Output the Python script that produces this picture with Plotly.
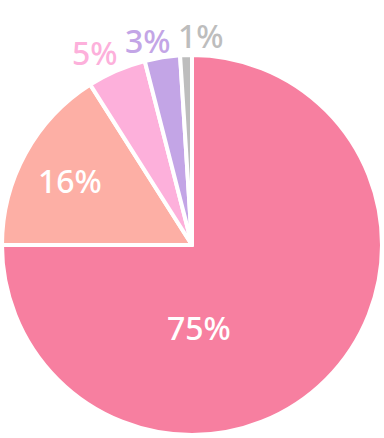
import math
import plotly.graph_objects as go

labels = ["A", "B", "C", "D", "E"]
values = [75, 16, 5, 3, 1]
colors = ["#F77FA0", "#FDAFA5", "#FDB0DB", "#C3A5E6", "#BDBDBD"]
text_colors = ["#FFFFFF", "#FFFFFF", "#FDB0DB", "#C3A5E6", "#BDBDBD"]

# label placement style: (radius as fraction of pie radius, angle nudge in degrees)
label_style = [(0.443, 40.2), (0.733, -1.1), (1.149, -3.3), (1.115, -3.1), (1.113, 4.3)]

W, H = 384, 438
cx_px, cy_px, R_px = 192, 245, 188
R_dom = 190  # domain half-size (plotly insets the drawn radius slightly)

fig = go.Figure(go.Pie(
    labels=labels,
    values=values,
    sort=False,
    direction="clockwise",
    rotation=0,
    marker=dict(colors=colors, line=dict(color="#FFFFFF", width=4)),
    textinfo="none",
    showlegend=False,
    hoverinfo="label+percent",
    domain=dict(x=[(cx_px - R_dom) / W, (cx_px + R_dom) / W],
                y=[(H - cy_px - R_dom) / H, (H - cy_px + R_dom) / H]),
))

total = sum(values)
cum = 0
for v, col, (rf, nudge) in zip(values, text_colors, label_style):
    mid = (cum + v / 2) / total * 360 + nudge
    cum += v
    px = cx_px + rf * R_px * math.sin(math.radians(mid))
    py = cy_px - rf * R_px * math.cos(math.radians(mid))
    fig.add_annotation(
        x=px / W, y=(H - py) / H, xref="paper", yref="paper",
        text=f"{round(v / total * 100)}%", showarrow=False,
        xanchor="center", yanchor="middle",
        font=dict(family="Noto Sans", size=32, color=col, weight=500),
    )

fig.update_layout(
    width=W, height=H,
    margin=dict(l=0, r=0, t=0, b=0),
    paper_bgcolor="#FFFFFF",
    plot_bgcolor="#FFFFFF",
)
fig.write_html("out.html", config={"displayModeBar": False},
               post_script="document.body.style.margin='0';")
